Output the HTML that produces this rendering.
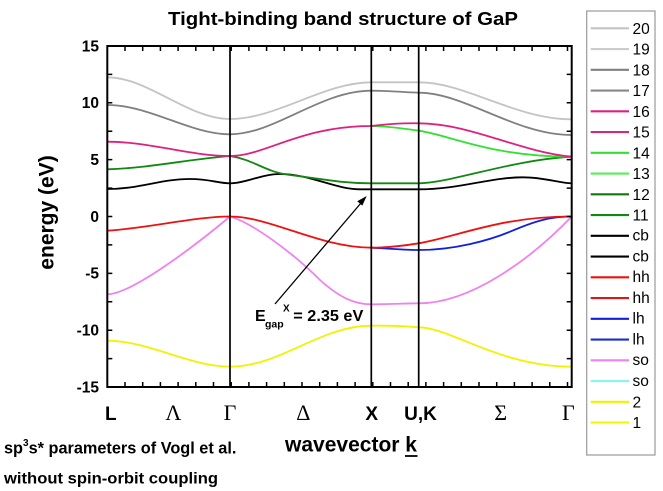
<!DOCTYPE html>
<html><head><meta charset="utf-8"><style>
body{margin:0;background:#fff}
svg{display:block}
text{font-family:"Liberation Sans",Arial,sans-serif}
.b{font-weight:bold}
.g{font-family:"Liberation Serif","Times New Roman",serif}
</style></head><body>
<svg width="663" height="491" viewBox="0 0 663 491" xmlns="http://www.w3.org/2000/svg">
<rect width="663" height="491" fill="#fff"/>
<!-- title -->
<text x="343" y="25" class="b" font-size="18.5" text-anchor="middle" textLength="350" lengthAdjust="spacingAndGlyphs">Tight-binding band structure of GaP</text>

<!-- curves -->
<g fill="none" stroke-width="1.8" stroke-linecap="round">
<path stroke="#f2f200" d="M107.3,340.7 C148,340.7 190,366.7 230,366.7 C280,366.7 320,325.7 371.3,325.7 C390,325.5 405,326 418.7,327.3 C450,327.3 500,366.7 571.7,366.7"/>
<path stroke="#ee82ee" d="M107.3,294.3 C130,294.3 190,250 230,216.5 C250,222 290,250 320,280 C340,298 355,304.3 371.3,304.3 C390,304.3 405,303.3 418.7,303.3 C470,303.3 530,260 571.7,216.5"/>
<path stroke="#1020e0" d="M371.3,247.7 C390,248.5 405,250 418.7,250 C455,250 490,240 510,231.7 C535,221 550,216.5 571.7,216.5"/>
<path stroke="#ee1111" d="M107.3,230.7 C150,228 195,216.5 230,216.5 C270,216.5 320,247.7 371.3,247.7 C390,247.7 405,245.5 418.7,243.3 C460,236 500,216.5 571.7,216.5"/>
<path stroke="#000" d="M107.3,189 C140,189 160,179 190,179 C210,179 218,183.3 230,183.3 C245,183.3 262,174 280,174 C310,174 335,189.3 360,189.3 L418.7,189.3 C460,189.3 490,177.3 522.7,177.3 C545,177.3 560,183.3 571.7,183.3"/>
<path stroke="#118811" d="M107.3,169.3 C150,168 190,159 230,156 C255,160 265,172 290,175 C320,178.5 340,183.3 371.3,183.3 L418.7,183.3 C450,183.3 510,160 571.7,156.7"/>
<path stroke="#33e033" d="M371.3,126 C385,126 400,128 418.7,130.7 C450,135 490,156.7 571.7,156.7"/>
<path stroke="#e0207f" d="M107.3,141.7 C150,141.7 190,156 230,156 C265,156 300,126 371.3,126 C390,124 400,123 418.7,123.3 C470,123.3 520,152 571.7,156.7"/>
<path stroke="#808080" d="M107.3,105 C150,105 190,134.3 230,134.3 C275,134.3 320,90.7 371.3,90.7 C390,90.7 400,92 418.7,92.7 C465,92.7 515,135 571.7,135"/>
<path stroke="#c4c4c4" d="M107.3,77.3 C148,77.3 188,119 230,119 C277,119 324,82.3 371.3,82.3 L418.7,82.3 C465,82 515,119.3 571.7,119.3"/>
</g>

<!-- vertical symmetry lines -->
<g stroke="#000" stroke-width="1.7">
<line x1="230" y1="46" x2="230" y2="387"/>
<line x1="371.3" y1="46" x2="371.3" y2="387"/>
<line x1="418.7" y1="46" x2="418.7" y2="387"/>
</g>

<!-- frame -->
<rect x="107.3" y="46" width="464.4" height="341" fill="none" stroke="#000" stroke-width="2"/>

<!-- ticks -->
<path stroke="#000" stroke-width="1.5" fill="none" d="
M125,387v-5M142.7,387v-5M160.4,387v-5M178.1,387v-5M195.8,387v-5M213.5,387v-5M231.2,387v-5M248.9,387v-5M266.6,387v-5M284.3,387v-5M302,387v-5M319.7,387v-5M337.4,387v-5M355.1,387v-5M372.8,387v-5M390.5,387v-5M408.2,387v-5M425.9,387v-5M443.6,387v-5M461.3,387v-5M479,387v-5M496.7,387v-5M514.4,387v-5M532.1,387v-5M549.8,387v-5M567.5,387v-5
M125,46v5M142.7,46v5M160.4,46v5M178.1,46v5M195.8,46v5M213.5,46v5M231.2,46v5M248.9,46v5M266.6,46v5M284.3,46v5M302,46v5M319.7,46v5M337.4,46v5M355.1,46v5M372.8,46v5M390.5,46v5M408.2,46v5M425.9,46v5M443.6,46v5M461.3,46v5M479,46v5M496.7,46v5M514.4,46v5M532.1,46v5M549.8,46v5M567.5,46v5
M107.3,74.4h5M107.3,102.8h5M107.3,131.2h5M107.3,159.65h5M107.3,188.1h5M107.3,216.5h5M107.3,244.9h5M107.3,273.35h5M107.3,301.8h5M107.3,330.2h5M107.3,358.6h5
M571.7,74.4h-5M571.7,102.8h-5M571.7,131.2h-5M571.7,159.65h-5M571.7,188.1h-5M571.7,216.5h-5M571.7,244.9h-5M571.7,273.35h-5M571.7,301.8h-5M571.7,330.2h-5M571.7,358.6h-5"/>

<!-- y tick labels -->
<g class="b" font-size="15.5" text-anchor="end">
<text x="99" y="51.5">15</text>
<text x="99" y="108">10</text>
<text x="99" y="165">5</text>
<text x="99" y="221.8">0</text>
<text x="99" y="278.6">-5</text>
<text x="99" y="335.5">-10</text>
<text x="99" y="392.3">-15</text>
</g>

<!-- y axis title -->
<text class="b" font-size="21" text-anchor="middle" transform="translate(53.3,212.5) rotate(-90)">energy (eV)</text>

<!-- x labels -->
<text x="105" y="420" class="b" font-size="19">L</text>
<text x="173.3" y="420" class="g" font-size="22" text-anchor="middle">Λ</text>
<text x="230" y="420" class="g" font-size="22" text-anchor="middle">Γ</text>
<text x="303.3" y="420" class="g" font-size="22" text-anchor="middle">Δ</text>
<text x="371.7" y="420" class="b" font-size="19" text-anchor="middle">X</text>
<text x="420.5" y="420" class="b" font-size="19" text-anchor="middle">U,K</text>
<text x="500.7" y="420" class="g" font-size="22" text-anchor="middle">Σ</text>
<text x="568.3" y="420" class="g" font-size="22" text-anchor="middle">Γ</text>

<!-- x axis title -->
<text x="285" y="451.7" class="b" font-size="21" textLength="132" lengthAdjust="spacingAndGlyphs">wavevector k</text>
<line x1="405" y1="456" x2="417.5" y2="456" stroke="#000" stroke-width="1.8"/>

<!-- bottom notes -->
<text x="4" y="453.3" class="b" font-size="16.3">sp<tspan font-size="10" dy="-7.5">3</tspan><tspan dy="7.5">s* parameters of Vogl et al.</tspan></text>
<text x="4" y="483.3" class="b" font-size="16" textLength="214" lengthAdjust="spacingAndGlyphs">without spin-orbit coupling</text>

<!-- annotation -->
<line x1="275" y1="304" x2="361" y2="203" stroke="#000" stroke-width="1.3"/>
<polygon points="366.7,196 357.2,201.2 362.3,205.6" fill="#000"/>
<text x="255" y="321" class="b" font-size="16">E</text>
<text x="265" y="327.5" class="b" font-size="10.5">gap</text>
<text x="283" y="311.5" class="b" font-size="10">X</text>
<text x="293.3" y="321" class="b" font-size="16" textLength="70" lengthAdjust="spacingAndGlyphs">= 2.35 eV</text>

<!-- legend -->
<rect x="586.7" y="11" width="68.3" height="444" fill="#fff" stroke="#9a9a9a" stroke-width="1.2"/>
<g stroke-width="2.2">
<line x1="590.7" x2="629" y1="28.3" y2="28.3" stroke="#c4c4c4"/>
<line x1="590.7" x2="629" y1="49.05" y2="49.05" stroke="#cccccc"/>
<line x1="590.7" x2="629" y1="69.8" y2="69.8" stroke="#808080"/>
<line x1="590.7" x2="629" y1="90.55" y2="90.55" stroke="#888888"/>
<line x1="590.7" x2="629" y1="111.3" y2="111.3" stroke="#e0207f"/>
<line x1="590.7" x2="629" y1="132.05" y2="132.05" stroke="#d02a80"/>
<line x1="590.7" x2="629" y1="152.8" y2="152.8" stroke="#33e033"/>
<line x1="590.7" x2="629" y1="173.55" y2="173.55" stroke="#55ee55"/>
<line x1="590.7" x2="629" y1="194.3" y2="194.3" stroke="#117711"/>
<line x1="590.7" x2="629" y1="215.05" y2="215.05" stroke="#118811"/>
<line x1="590.7" x2="629" y1="235.8" y2="235.8" stroke="#000"/>
<line x1="590.7" x2="629" y1="256.55" y2="256.55" stroke="#000"/>
<line x1="590.7" x2="629" y1="277.3" y2="277.3" stroke="#ee1111"/>
<line x1="590.7" x2="629" y1="298.05" y2="298.05" stroke="#dd1818"/>
<line x1="590.7" x2="629" y1="318.8" y2="318.8" stroke="#1020e0"/>
<line x1="590.7" x2="629" y1="339.55" y2="339.55" stroke="#1830c8"/>
<line x1="590.7" x2="629" y1="360.3" y2="360.3" stroke="#ee82ee"/>
<line x1="590.7" x2="629" y1="381.05" y2="381.05" stroke="#88f4f4"/>
<line x1="590.7" x2="629" y1="401.8" y2="401.8" stroke="#f2f200"/>
<line x1="590.7" x2="629" y1="422.55" y2="422.55" stroke="#f5f500"/>
</g>
<g font-size="15.5">
<text x="632.5" y="33.8">20</text>
<text x="632.5" y="54.5">19</text>
<text x="632.5" y="75.3">18</text>
<text x="632.5" y="96">17</text>
<text x="632.5" y="116.8">16</text>
<text x="632.5" y="137.5">15</text>
<text x="632.5" y="158.3">14</text>
<text x="632.5" y="179">13</text>
<text x="632.5" y="199.8">12</text>
<text x="632.5" y="220.5">11</text>
<text x="632.5" y="240.5">cb</text>
<text x="632.5" y="261.3">cb</text>
<text x="632.5" y="282">hh</text>
<text x="632.5" y="302.8">hh</text>
<text x="632.5" y="323.5">lh</text>
<text x="632.5" y="344.3">lh</text>
<text x="632.5" y="365">so</text>
<text x="632.5" y="385.8">so</text>
<text x="632.5" y="407.3">2</text>
<text x="632.5" y="428">1</text>
</g>
</svg>
</body></html>
